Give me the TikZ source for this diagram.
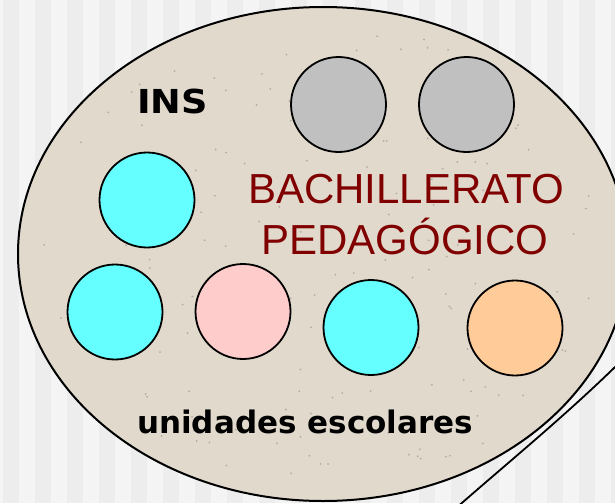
\documentclass[tikz,border=0pt]{standalone}
\usepackage{graphicx}
\usepackage{fontspec}
\setmainfont{Liberation Sans}
\newfontfamily\labelfont{DejaVu Sans}
\newfontfamily\titlefont{Liberation Sans}
\definecolor{bgA}{HTML}{F4F4F4}
\definecolor{bgB}{HTML}{EDEDED}
\definecolor{plate}{RGB}{224,217,204}
\definecolor{dotgray}{HTML}{C0C0C0}
\definecolor{dotcyan}{HTML}{66FFFF}
\definecolor{dotpink}{HTML}{FFCCCC}
\definecolor{dotorange}{HTML}{FFCC99}
\definecolor{titlered}{HTML}{800000}
\tikzset{
  dot/.style={circle, draw=black, line width=1.8pt, minimum size=95pt, inner sep=0pt},
  lbl/.style={font=\labelfont\bfseries\fontsize{31}{37}\selectfont, text=black, inner sep=0pt, anchor=base west},
  ttl/.style={font=\titlefont\fontsize{42}{51}\selectfont, text=titlered, inner sep=0pt, anchor=base},
}
\begin{document}
\begin{tikzpicture}[x=1pt,y=-1pt]
\useasboundingbox (0,0) rectangle (615,503);
\clip (0,0) rectangle (615,503);
% striped background
\fill[bgA] (0,0) rectangle (615,503);
\foreach \i in {0,...,19} { \fill[bgB] ({3+32*\i},0) rectangle ++(16,503); }
% shadow edge line
\coordinate (s0) at (455,509);
\coordinate (s1) at (640,342);
\draw[line width=1.8pt] (s0) .. controls (513,458) and (580,404) .. (s1);
% main plate
\draw[fill=plate, line width=2pt] (323,254) ellipse [x radius=305, y radius=247];
% texture specks
\pgfmathsetseed{7}
\foreach \k in {1,...,160} {
  \pgfmathsetmacro{\ang}{rnd*360}
  \pgfmathsetmacro{\rr}{sqrt(rnd)*0.93}
  \fill[black!35!plate, opacity=0.6] ({323+305*\rr*cos(\ang)},{254+247*\rr*sin(\ang)}) circle (1.0);
}
% circles
\node[dot, fill=dotgray]   (g1) at (338.5,104.5) {};
\node[dot, fill=dotgray]   (g2) at (466.5,104.5) {};
\node[dot, fill=dotcyan]   (c1) at (147,200) {};
\node[dot, fill=dotcyan]   (c2) at (115,312) {};
\node[dot, fill=dotpink]   (p1) at (243,311.5) {};
\node[dot, fill=dotcyan]   (c3) at (371,327.5) {};
\node[dot, fill=dotorange] (o1) at (515,328) {};
% texts
\node[lbl, font=\labelfont\bfseries\fontsize{33}{39}\selectfont] (ins) at (137,113) {\scalebox{1.11}[1]{INS}};
\node[lbl] (ue) at (137,433) {unidades escolares};
\node[ttl] (t1) at (406,203) {BACHILLERATO};
\node[ttl] (t2) at (405,254) {PEDAGÓGICO};
\end{tikzpicture}
\end{document}
